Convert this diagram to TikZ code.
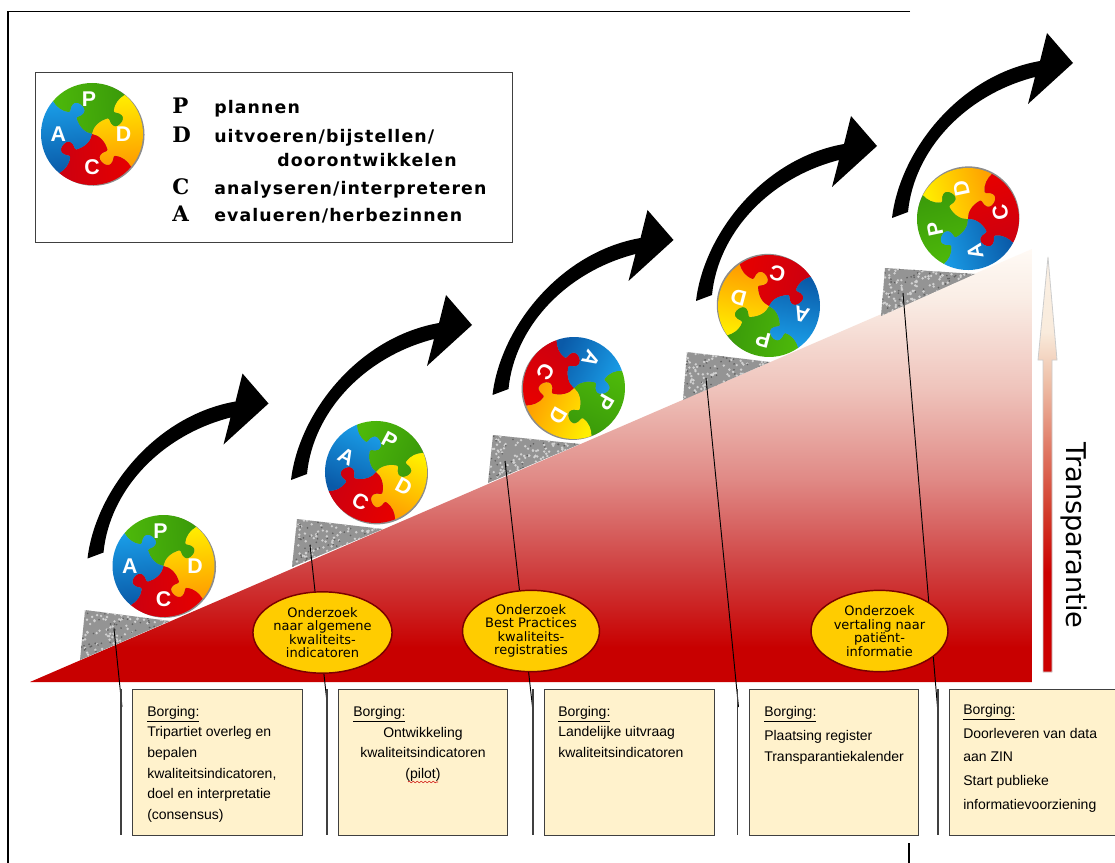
\documentclass[tikz,border=0pt]{standalone}
\usepackage{fontspec}
\setmainfont{Liberation Sans}
\newfontfamily\dvsfont{DejaVu Sans}
\newfontfamily\legfont[LetterSpace=6.5]{DejaVu Sans}
\newfontfamily\serfont{DejaVu Serif}
\usetikzlibrary{shapes.geometric,decorations.pathmorphing}
\definecolor{boxfill}{HTML}{FFF2CC}
\definecolor{boxline}{HTML}{404040}
\definecolor{ovalfill}{HTML}{FFCC00}
\definecolor{ovalline}{HTML}{7A0000}
\definecolor{wa}{HTML}{C80000}\definecolor{wb}{HTML}{CF4040}\definecolor{wc}{HTML}{E08A86}
\definecolor{wd}{HTML}{EFC4BC}\definecolor{we}{HTML}{FAEEE6}\definecolor{wf}{HTML}{FFFAF5}
\pgfdeclareverticalshading{wedgeshade}{100bp}{color(0bp)=(wa); color(25bp)=(wa); color(29bp)=(wa); color(38bp)=(wb); color(48.5bp)=(wc); color(59bp)=(wd); color(69.5bp)=(we); color(75bp)=(wf); color(100bp)=(wf)}
\definecolor{ua}{HTML}{CC0000}\definecolor{ub}{HTML}{D23A2A}\definecolor{uc}{HTML}{E07A66}
\definecolor{ud}{HTML}{EEC0A8}\definecolor{ue}{HTML}{F9EBDC}\definecolor{uf}{HTML}{FAF0E4}
\pgfdeclareverticalshading{upshade}{100bp}{color(0bp)=(ua); color(25bp)=(ua); color(37bp)=(ua); color(44bp)=(ub); color(52bp)=(uc); color(60bp)=(ud); color(66bp)=(ue); color(75bp)=(uf); color(100bp)=(uf)}
\tikzset{
  framing/.style={line width=1.3pt,black},
  leader/.style={line width=0.7pt,black},
  leaderdrop/.style={line width=1.1pt,boxline},
  boxstyle/.style={draw=boxline,fill=boxfill,line width=1.1pt,rectangle,minimum width=#1*0.75pt,minimum height=109.5pt,anchor=north west,inner sep=0pt},
  boxtext/.style={anchor=north west,align=left,inner sep=0pt,font=\fontsize{10.5}{15.4}\selectfont},
  oval/.style={ellipse,draw=ovalline,fill=ovalfill,line width=1.1pt,minimum width=102.75pt,minimum height=61pt,inner sep=0pt,align=center,font=\dvsfont\fontsize{9.75}{10.1}\selectfont},
  legendbig/.style={anchor=base west,inner sep=0pt,font=\serfont\bfseries\fontsize{16}{16}\selectfont},
  legendtxt/.style={anchor=base west,inner sep=0pt,font=\legfont\bfseries\fontsize{13}{14}\selectfont},
  piecetxt/.style={text=white,inner sep=0pt,font=\bfseries\fontsize{16}{16}\selectfont},
}
% one jigsaw piece: the local x axis is its clockwise edge, with the tab pointing clockwise
\newcommand\piece[2]{\shade[rotate=#1,#2] (0,0) .. controls (.12,.07) and (.28,.06) .. (.43,-.04)
  .. controls (.46,-.08) and (.38,-.12) .. (.39,-.21)
  .. controls (.40,-.33) and (.65,-.33) .. (.66,-.21)
  .. controls (.67,-.12) and (.59,-.08) .. (.62,-.04)
  .. controls (.75,.05) and (.88,.04) .. (1,0)
  arc (0:90:1)
  .. controls (-.04,.88) and (-.05,.75) .. (.04,.62)
  .. controls (.08,.59) and (.12,.67) .. (.21,.66)
  .. controls (.33,.65) and (.33,.40) .. (.21,.39)
  .. controls (.12,.38) and (.08,.46) .. (.04,.43)
  .. controls (-.06,.28) and (-.07,.12) .. (0,0) -- cycle;}
\definecolor{dgrnt}{HTML}{4DB80A}\definecolor{dgrnb}{HTML}{3A9A0A}
\definecolor{dyel}{HTML}{FFEE00}\definecolor{dora}{HTML}{FF9A00}
\definecolor{dredt}{HTML}{E60000}\definecolor{dredb}{HTML}{CC0010}
\definecolor{dblub}{HTML}{0A5AA8}\definecolor{dblut}{HTML}{1A9EE8}
% whole disc: centre x, centre y, rotation, name
\newcommand\puzzle[4]{\begin{scope}[shift={(#1,#2)},x=38.25pt,y=38.25pt,rotate=#3]
  \fill[black!45] (.03,-.015) circle (1);
  \pgfmathsetmacro\angP{#3+50+45}\pgfmathsetmacro\angD{#3-40+45}\pgfmathsetmacro\angC{#3-130+45}\pgfmathsetmacro\angA{#3+140+45}
  \piece{50}{top color=dgrnt,bottom color=dgrnb,shading angle=\angP}
  \piece{-40}{top color=dyel,bottom color=dora,shading angle=\angD}
  \piece{-130}{top color=dredt,bottom color=dredb,shading angle=\angC}
  \piece{140}{top color=dblub,bottom color=dblut,shading angle=\angA}
  \node[piecetxt,rotate=#3] (#4P) at (95:.68) {P};
  \node[piecetxt,rotate=#3] (#4D) at (0:.62) {D};
  \node[piecetxt,rotate=#3] (#4C) at (-90:.65) {C};
  \node[piecetxt,rotate=#3] (#4A) at (180:.66) {A};
\end{scope}}
% granite wedge: three corners, and the top-left of its bounding box
\newcommand\stone[8]{\begin{scope}
  \clip (#1,#2) -- (#3,#4) -- (#5,#6) -- cycle;
  \fill[black!42] (#1,#2) -- (#3,#4) -- (#5,#6) -- cycle;
  \foreach \i in {1,...,170}{\pgfmathsetmacro\px{#7+96*rnd}\pgfmathsetmacro\py{#8+50*rnd}\fill[black!18] (\px,\py) circle (1pt);}
  \foreach \i in {1,...,70}{\pgfmathsetmacro\px{#7+96*rnd}\pgfmathsetmacro\py{#8+50*rnd}\fill[black!62] (\px,\py) circle (0.7pt);}
\end{scope}}
% curved arrow given by the centre of its tail
\newcommand\bigarrow[2]{\fill[black,shift={(#1-900,#2-215)}]
  (892,218) .. controls (900,150) and (960,75) .. (1040,61)
  -- (1047,33) -- (1073,63) -- (1028,104) -- (1035,77)
  .. controls (965,95) and (914,150) .. (908,212) -- cycle;}
\begin{document}
\begin{tikzpicture}[x=0.75pt,y=-0.75pt]
\pgfmathsetseed{4711}
\useasboundingbox (0,0) rectangle (1115,863);
\fill[white] (0,0) rectangle (1115,863);
% page frame fragments
\coordinate (fa) at (910,11.5); \coordinate (fb) at (8,11.5); \coordinate (fc) at (8,863);
\coordinate (fd) at (909,843); \coordinate (fe) at (909,863);
\draw[framing] (fa) -- (fb) -- (fc);
\draw[framing] (fd) -- (fe);
% rising wedge
\shade[shading=wedgeshade] (30,682) -- (1032,682) -- (1032,249) -- cycle;
% stones
\stone{85}{610}{80}{660}{170}{621}{78}{608}
\stone{297}{519}{292}{567}{383}{529}{290}{517}
\stone{493}{435}{488}{483}{580}{444}{486}{433}
\stone{687}{352}{683}{400}{770}{362}{681}{350}
\stone{885}{268}{881}{316}{975}{274}{879}{266}
% leaders
\coordinate (s1) at (114,629); \coordinate (k1) at (122,707); \coordinate (t1) at (121,689); \coordinate (e1) at (121,835);
\coordinate (s2) at (310,545); \coordinate (k2) at (327.5,707); \coordinate (t2) at (327,689); \coordinate (e2) at (327,835);
\coordinate (s3) at (505,461); \coordinate (k3) at (532.5,707); \coordinate (t3) at (533,689); \coordinate (e3) at (533,835);
\coordinate (s4) at (706,378); \coordinate (k4) at (738.5,707); \coordinate (t4) at (737.5,689); \coordinate (e4) at (737.5,835);
\coordinate (s5) at (903,293); \coordinate (k5) at (937.5,707); \coordinate (t5) at (938,689); \coordinate (e5) at (938,835);
\foreach \n in {1,...,5}{\draw[leader] (s\n) -- (k\n); \draw[leaderdrop] (t\n) -- (e\n);}
% ovals
\node[oval] (o1) at (322.5,632.5) {Onderzoek\\naar algemene\\kwaliteits-\\indicatoren};
\node[oval] (o2) at (531,631) {Onderzoek\\Best Practices\\kwaliteits-\\registraties};
\node[oval] (o3) at (879.5,631) {Onderzoek\\vertaling naar\\patiënt-\\informatie};
% discs
\puzzle{163.5}{566}{0}{da}
\puzzle{376}{472}{-28}{db}
\puzzle{574}{388}{-120}{dc}
\puzzle{769}{306}{165}{dd}
\puzzle{968}{219}{102}{de}
% curved arrows
\bigarrow{95.5}{555.5}
\bigarrow{299}{477}
\bigarrow{500.5}{392}
\bigarrow{704}{298}
\bigarrow{900}{215}
% transparency arrow
\shade[shading=upshade,draw=black!20,line width=0.6pt] (1048,257) -- (1057,360) -- (1052,360) -- (1052,672) -- (1043,672) -- (1043,360) -- (1038,360) -- cycle;
\node[rotate=-90,inner sep=0pt,font=\dvsfont\fontsize{20.4}{20}\selectfont] (trans) at (1074,535.5) {Transparantie};
% legend
\node[draw=boxline,fill=white,line width=1.1pt,rectangle,minimum width=357.75pt,minimum height=127.5pt,anchor=north west,inner sep=0pt] (legend) at (35,72) {};
\puzzle{92}{134}{0}{dl}
\node[legendbig] (lp) at (172,114) {P};
\node[legendbig] (ld) at (172,143) {D};
\node[legendbig] (lc) at (172,195) {C};
\node[legendbig] (la) at (172,222) {A};
\node[legendtxt] (tp) at (214,114) {plannen};
\node[legendtxt] (td) at (214,143) {uitvoeren/bijstellen/};
\node[legendtxt] (td2) at (277,167) {doorontwikkelen};
\node[legendtxt] (tc) at (214,195) {analyseren/interpreteren};
\node[legendtxt] (ta) at (214,222) {evalueren/herbezinnen};
% boxes
\node[boxstyle=170] (b1) at (132,689) {};
\node[boxstyle=169] (b2) at (338,689) {};
\node[boxstyle=170] (b3) at (544,689) {};
\node[boxstyle=169] (b4) at (749,689) {};
\node[boxstyle=180] (b5) at (949,689) {};
\node[boxtext] (x1) at (147,706) {\underline{Borging:}\\Tripartiet overleg en\\bepalen\\kwaliteitsindicatoren,\\doel en interpretatie\\(consensus)};
\node[boxtext] (x2a) at (353,706) {\underline{Borging:}};
\node[boxtext,anchor=north,align=center] (x2b) at (423,727) {Ontwikkeling\\kwaliteitsindicatoren\\(pilot)};
\coordinate (qa) at (408,782); \coordinate (qb) at (438,782);
\draw[red!80!black,line width=0.4pt,decorate,decoration={snake,amplitude=0.6pt,segment length=3pt}] (qa) -- (qb);
\node[boxtext] (x3) at (558,706) {\underline{Borging:}\\Landelijke uitvraag\\kwaliteitsindicatoren};
\node[boxtext] (x4) at (764,706) {\underline{Borging:}\\[3pt]Plaatsing register\\Transparantiekalender};
\node[boxtext,font=\fontsize{10.5}{17.8}\selectfont] (x5) at (963,704) {\underline{Borging:}\\Doorleveren van data\\aan ZIN\\Start publieke\\informatievoorziening};
\end{tikzpicture}
\end{document}
